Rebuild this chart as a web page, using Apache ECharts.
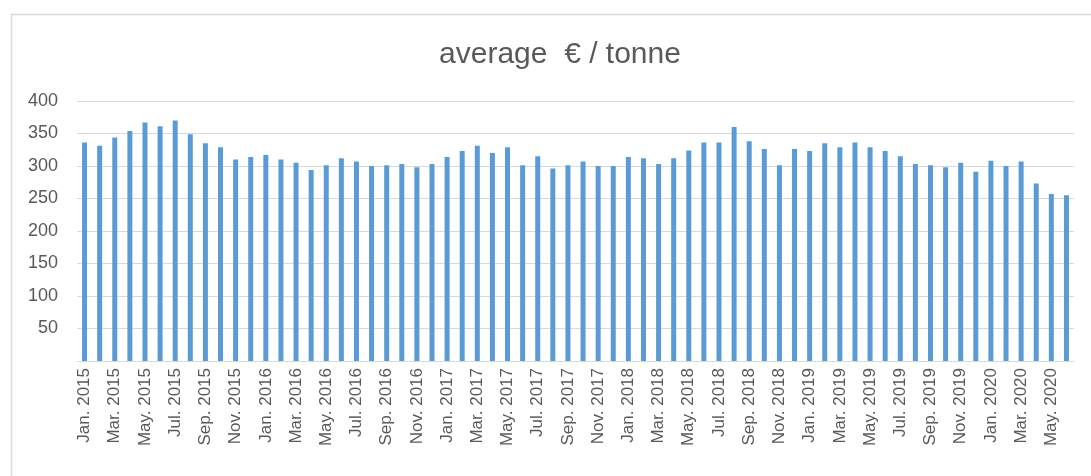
<!DOCTYPE html>
<html>
<head>
<meta charset="utf-8">
<script src="https://cdn.jsdelivr.net/npm/echarts@6/dist/echarts.min.js"></script>
<style>
html,body{margin:0;padding:0;background:#fff;}
#chart{width:1091px;height:476px;}
</style>
</head>
<body>
<div id="chart"></div>
<script>
const titleText = 'average  € / tonne';

const categories = [
  'Jan. 2015','Feb. 2015','Mar. 2015','Apr. 2015','May. 2015','Jun. 2015','Jul. 2015','Aug. 2015','Sep. 2015','Oct. 2015','Nov. 2015','Dec. 2015',
  'Jan. 2016','Feb. 2016','Mar. 2016','Apr. 2016','May. 2016','Jun. 2016','Jul. 2016','Aug. 2016','Sep. 2016','Oct. 2016','Nov. 2016','Dec. 2016',
  'Jan. 2017','Feb. 2017','Mar. 2017','Apr. 2017','May. 2017','Jun. 2017','Jul. 2017','Aug. 2017','Sep. 2017','Oct. 2017','Nov. 2017','Dec. 2017',
  'Jan. 2018','Feb. 2018','Mar. 2018','Apr. 2018','May. 2018','Jun. 2018','Jul. 2018','Aug. 2018','Sep. 2018','Oct. 2018','Nov. 2018','Dec. 2018',
  'Jan. 2019','Feb. 2019','Mar. 2019','Apr. 2019','May. 2019','Jun. 2019','Jul. 2019','Aug. 2019','Sep. 2019','Oct. 2019','Nov. 2019','Dec. 2019',
  'Jan. 2020','Feb. 2020','Mar. 2020','Apr. 2020','May. 2020','Jun. 2020'
];

const values = [
  336, 331, 344, 354, 367, 361, 370, 349, 335, 329, 310, 314,
  317, 310, 305, 294, 301, 312, 307, 300, 301, 303, 298, 303,
  314, 323, 331, 320, 329, 301, 315, 296, 301, 307, 300, 300,
  314, 312, 303, 312, 324, 336, 336, 360, 338, 326, 301, 326,
  323, 335, 329, 336, 329, 323, 315, 303, 301, 298, 305, 291,
  308, 300, 307, 273, 257, 255
];

const yTicks = { min: 0, max: 400, interval: 50 };

const chart = echarts.init(document.getElementById('chart'), null, { renderer: 'canvas' });
const textColor = '#595959';
const fontFamily = '"Liberation Sans", Arial, sans-serif';

chart.setOption({
  animation: false,
  backgroundColor: '#ffffff',
  title: {
    text: titleText,
    left: 555,
    textAlign: 'center',
    top: 35,
    textStyle: { color: textColor, fontSize: 30, fontWeight: 'normal', fontFamily: fontFamily }
  },
  graphic: [{
    type: 'rect',
    left: 9, top: 12,
    shape: { width: 1200, height: 600 },
    style: { fill: 'none', stroke: '#d9d9d9', lineWidth: 1.5 },
    silent: true
  }],
  grid: { left: 77, right: 17, top: 101, bottom: 115, containLabel: false },
  xAxis: {
    type: 'category',
    data: categories,
    axisLine: { show: true, lineStyle: { color: '#d9d9d9', width: 1 } },
    axisTick: { show: false },
    axisLabel: {
      interval: 1,
      rotate: 90,
      margin: 7,
      color: textColor,
      fontSize: 17,
      fontFamily: fontFamily
    },
    splitLine: { show: false }
  },
  yAxis: {
    type: 'value',
    min: yTicks.min,
    max: yTicks.max,
    interval: yTicks.interval,
    axisLine: { show: false },
    axisTick: { show: false },
    axisLabel: {
      showMinLabel: false,
      margin: 19,
      color: textColor,
      fontSize: 18,
      fontFamily: fontFamily
    },
    splitLine: { show: true, lineStyle: { color: '#d9d9d9', width: 1 } }
  },
  series: [{
    type: 'bar',
    data: values,
    barWidth: 5,
    itemStyle: { color: '#5b9bd5' }
  }]
});
</script>
</body>
</html>
